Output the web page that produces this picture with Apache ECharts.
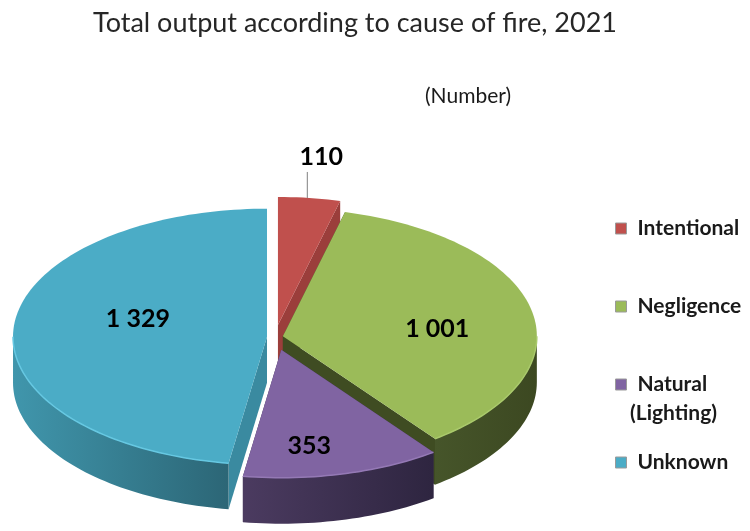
<!DOCTYPE html>
<html>
<head>
<meta charset="utf-8">
<script src="https://cdn.jsdelivr.net/npm/echarts@6/dist/echarts.min.js"></script>
<style>
  html, body { margin: 0; padding: 0; background: #ffffff; }
  #chart { width: 750px; height: 531px; }
</style>
</head>
<body>
<div id="chart"></div>
<script>
// Fire outputs by cause, 2021 (number)
const categories = ['Intentional', 'Negligence', 'Natural (Lighting)', 'Unknown'];
const values = [110, 1001, 353, 1329];

// Slice styling
const topColors  = ['#c0504d', '#9bbb59', '#8064a2', '#4bacc6'];
const faceColors = ['#9b3e3b', '#3f4c22', '#3c2e4f', '#3a8aa0'];
const wallColors = [['#a8423f', '#8a3532'], ['#46552a', '#3c4821'], ['#4b3b60', '#2e2540'], ['#4096ac', '#2c6676']];
const rimColors  = ['#d4706d', '#a9c96b', '#9479b5', '#66c8e2'];
const explode    = [24, 8, 26, 8];
// inside label placement: [fraction of radius along mid angle, vertical nudge]
const labelPlace = [null, [0.62, 8], [0.455, 40], [0.51, -13]];
// series drawing order (back to front)
const drawOrder = [0, 1, 3, 2];

// Pie geometry (tilted ellipse with extruded walls)
const CX = 275, CY = 337, RX = 254, RY = 128, DEPTH = 46;
const FONT = 'Lato, "Noto Sans", sans-serif';
const LABEL_FONT = 'bold 25px ' + FONT;

const total = values.reduce((s, v) => s + v, 0);
const starts = [];
values.reduce((acc, v) => { starts.push(acc); return acc + v; }, 0);

function fmt(v) {
  return String(v).replace(/\B(?=(\d{3})+(?!\d))/g, ' ');
}
function ellipsePt(cx, cy, a, drop) {
  return [cx + RX * Math.sin(a), cy - RY * Math.cos(a) + (drop || 0)];
}
function arcPts(cx, cy, a0, a1, drop) {
  const n = Math.max(2, Math.ceil(Math.abs(a1 - a0) / (Math.PI / 120)));
  const out = [];
  for (let k = 0; k <= n; k++) out.push(ellipsePt(cx, cy, a0 + (a1 - a0) * k / n, drop));
  return out;
}

function makeRender(i) {
  return function (params, api) {
    const v = api.value(0);
    const a0 = starts[i] / total * 2 * Math.PI;
    const a1 = (starts[i] + v) / total * 2 * Math.PI;
    const mid = (a0 + a1) / 2;
    const e = explode[i];
    const cx = CX + e * Math.sin(mid);
    const cy = CY - e * (RY / RX) * Math.cos(mid);
    const kids = [];

    // radial cut faces
    [a0, a1].forEach(function (a) {
      const p = ellipsePt(cx, cy, a, 0);
      kids.push({
        type: 'polygon',
        shape: { points: [[cx, cy], p, [p[0], p[1] + DEPTH], [cx, cy + DEPTH]] },
        style: { fill: faceColors[i] }
      });
    });

    // outer wall, front-facing part only
    const lo = Math.max(a0, Math.PI / 2);
    const hi = Math.min(a1, 1.5 * Math.PI);
    if (hi > lo) {
      const topArc = arcPts(cx, cy, lo, hi, 0);
      const botArc = arcPts(cx, cy, lo, hi, DEPTH).reverse();
      kids.push({
        type: 'polygon',
        shape: { points: topArc.concat(botArc) },
        style: {
          fill: new echarts.graphic.LinearGradient(0, 0, 1, 0, [
            { offset: 0, color: wallColors[i][0] },
            { offset: 1, color: wallColors[i][1] }
          ])
        }
      });
    }

    // top face
    kids.push({
      type: 'polygon',
      shape: { points: [[cx, cy]].concat(arcPts(cx, cy, a0, a1, 0)) },
      style: { fill: topColors[i] }
    });
    if (hi > lo) {
      kids.push({
        type: 'polyline',
        shape: { points: arcPts(cx, cy, lo, hi, 0) },
        style: { stroke: rimColors[i], lineWidth: 1.5, fill: null }
      });
    }

    // value label
    if (v / total < 0.05) {
      const p = ellipsePt(cx, cy, mid, 0);
      const tipY = p[1] - 26;
      kids.push({
        type: 'line',
        shape: { x1: p[0] - 2, y1: p[1], x2: p[0] - 2, y2: tipY },
        style: { stroke: '#808080', lineWidth: 1 }
      });
      kids.push({
        type: 'text',
        style: {
          text: fmt(v), x: p[0] + 12, y: tipY - 15,
          align: 'center', verticalAlign: 'middle',
          textAlign: 'center', textVerticalAlign: 'middle',
          font: LABEL_FONT, fill: '#000000'
        }
      });
    } else {
      const f = labelPlace[i][0];
      const lx = cx + RX * f * Math.sin(mid);
      const ly = cy - RY * f * Math.cos(mid) + labelPlace[i][1];
      kids.push({
        type: 'text',
        style: {
          text: fmt(v), x: lx, y: ly,
          align: 'center', verticalAlign: 'middle',
          textAlign: 'center', textVerticalAlign: 'middle',
          font: LABEL_FONT, fill: '#000000'
        }
      });
    }
    return { type: 'group', children: kids };
  };
}

const series = drawOrder.map(function (i, k) {
  return {
    type: 'custom',
    name: categories[i],
    coordinateSystem: 'none',
    z: 2 + k,
    itemStyle: { color: topColors[i] },
    data: [[values[i]]],
    renderItem: makeRender(i),
    silent: true
  };
});

const chart = echarts.init(document.getElementById('chart'), null, { renderer: 'canvas' });
chart.setOption({
  backgroundColor: '#ffffff',
  animation: false,
  title: {
    text: 'Total output according to cause of fire, 2021',
    left: 88, top: 5,
    textStyle: { fontFamily: FONT, fontWeight: 'normal', fontSize: 27, color: '#262626' }
  },
  legend: {
    orient: 'vertical',
    left: 610, top: 213,
    data: categories,
    itemWidth: 11, itemHeight: 11,
    itemGap: 57,
    selectedMode: false,
    icon: 'rect',
    itemStyle: { borderColor: '#9a9a9a', borderWidth: 1 },
    formatter: function (name) { return name.split(' (')[0]; },
    textStyle: {
      fontFamily: FONT, fontWeight: 'bold',
      fontSize: 21, lineHeight: 20, color: '#1a1a1a', padding: [0, 0, 0, 6]
    }
  },
  graphic: [
    {
      type: 'text', left: 425, top: 86,
      style: { text: '(Number)', font: '21px ' + FONT, fill: '#1a1a1a' }
    },
    {
      type: 'text', left: 630, top: 403,
      style: { text: '(Lighting)', font: 'bold 21px ' + FONT, fill: '#1a1a1a' }
    }
  ],
  series: series
});
</script>
</body>
</html>
